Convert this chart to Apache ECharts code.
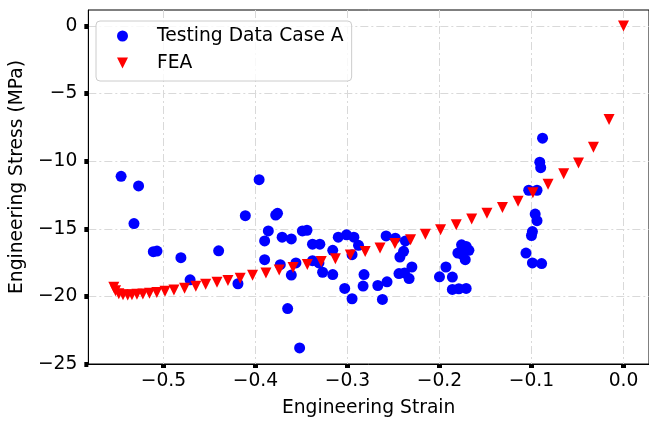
<!DOCTYPE html>
<html>
<head>
<meta charset="utf-8">
<script src="https://cdn.jsdelivr.net/npm/echarts@6/dist/echarts.min.js"></script>
<style>
html,body{margin:0;padding:0;background:#fff;}
#chart{width:649px;height:423px;}
</style>
</head>
<body>
<div id="chart"></div>
<script>
// Testing Data Case A
const testStrain = [-0.546,-0.527,-0.532,-0.511,-0.507,-0.481,-0.471,-0.440,-0.419,-0.411,
  -0.396,-0.378,-0.376,-0.386,-0.390,-0.390,-0.371,-0.361,-0.349,-0.344,
  -0.338,-0.330,-0.316,-0.310,-0.301,-0.293,-0.288,-0.295,-0.258,-0.248,
  -0.237,-0.239,-0.243,-0.230,-0.244,-0.238,-0.233,-0.257,-0.267,-0.262,
  -0.283,-0.282,-0.295,-0.303,-0.316,-0.327,-0.338,-0.331,-0.356,-0.373,
  -0.361,-0.365,-0.352,-0.176,-0.171,-0.168,-0.180,-0.175,-0.172,-0.193,
  -0.200,-0.186,-0.186,-0.179,-0.171,-0.088,-0.091,-0.090,-0.103,-0.094,
  -0.096,-0.094,-0.099,-0.100,-0.106,-0.099,-0.089];
const testStress = [-11.12,-11.83,-14.62,-16.70,-16.65,-17.14,-18.78,-16.63,-19.07,-14.03,
  -11.37,-13.99,-13.86,-15.16,-15.90,-17.29,-15.62,-15.75,-15.16,-15.11,
  -16.14,-16.14,-16.60,-15.62,-15.45,-15.62,-16.23,-16.92,-15.53,-15.70,
  -15.90,-16.67,-17.09,-17.83,-18.32,-18.27,-18.69,-18.93,-19.20,-20.23,
  -19.24,-18.39,-20.18,-19.42,-18.39,-18.22,-17.36,-17.53,-17.53,-17.66,
  -18.43,-20.91,-23.82,-16.19,-16.31,-16.60,-16.80,-16.92,-17.29,-17.83,
  -18.56,-18.58,-19.49,-19.44,-19.42,-8.30,-10.07,-10.48,-12.15,-12.15,
  -13.91,-14.40,-15.21,-15.50,-16.80,-17.53,-17.58];

// FEA
const feaStrain = [-0.5539,-0.5520,-0.5485,-0.5439,-0.5388,-0.5342,-0.5288,-0.5223,-0.5151,-0.5072,
  -0.4983,-0.4886,-0.4770,-0.4648,-0.4541,-0.4418,-0.4299,-0.4166,-0.4031,-0.3886,
  -0.3742,-0.3591,-0.3436,-0.3285,-0.3131,-0.2969,-0.2807,-0.2646,-0.2484,-0.2314,
  -0.2153,-0.1988,-0.1818,-0.1650,-0.1484,-0.1316,-0.1146,-0.0985,-0.0820,-0.0650,
  -0.0489,-0.0327,-0.0157,0.0];
const feaStress = [-19.33,-19.59,-19.81,-19.88,-19.90,-19.88,-19.85,-19.82,-19.77,-19.71,
  -19.63,-19.54,-19.41,-19.26,-19.11,-18.96,-18.83,-18.66,-18.45,-18.27,
  -18.06,-17.86,-17.65,-17.42,-17.22,-16.95,-16.69,-16.43,-16.10,-15.81,
  -15.40,-15.07,-14.71,-14.27,-13.86,-13.42,-12.96,-12.34,-11.71,-10.93,
  -10.14,-8.96,-6.92,0.0];

const xTicks = [-0.5,-0.4,-0.3,-0.2,-0.1,0.0];
const yTicks = [0,-5,-10,-15,-20,-25];
const seriesNames = ['Testing Data Case A','FEA'];
const axisNames = ['Engineering Strain','Engineering Stress (MPa)'];

const FONT = 'DejaVu Sans';
const FS = 18.7;
const TRI = 'path://M0,0L2,0L1,2Z';
const fmtX = v => Math.abs(v) < 1e-9 ? '0.0' : v.toFixed(1).replace('-', '\u2212');
const fmtY = v => String(Math.round(v)).replace('-', '\u2212');

const testData = testStrain.map((x, i) => [x, testStress[i]]);
const feaData = feaStrain.map((x, i) => [x, feaStress[i]]);

const gridLine = {show: true, lineStyle: {color: '#d9d9d9', width: 1, type: [8, 3, 2, 3]}};

const chart = echarts.init(document.getElementById('chart'), null, {renderer: 'canvas'});
chart.setOption({
  animation: false,
  backgroundColor: '#fff',
  grid: {left: 86, top: 10, width: 565, height: 356.8, show: true, borderColor: '#000', borderWidth: 1, backgroundColor: 'transparent'},
  legend: {
    orient: 'vertical', left: 96, top: 21,
    itemWidth: 11, itemHeight: 11, itemGap: 5,
    padding: [4, 8, 7, 21],
    backgroundColor: 'rgba(255,255,255,0.8)', borderColor: '#cccccc', borderWidth: 1, borderRadius: 4,
    textStyle: {fontSize: FS, fontFamily: FONT, color: '#000', padding: [0, 0, 0, 24], lineHeight: 22},
    data: [{name: seriesNames[0], icon: 'circle'}, {name: seriesNames[1], icon: TRI}]
  },
  xAxis: {
    type: 'value', min: -0.5816, max: 0.0277,
    name: axisNames[0], nameLocation: 'middle', nameGap: 35,
    nameTextStyle: {fontSize: FS, fontFamily: FONT, color: '#000'},
    axisLine: {show: true, onZero: false, lineStyle: {color: '#000', width: 1}},
    axisTick: {show: true, customValues: xTicks, length: 4, lineStyle: {color: '#000', width: 5}},
    axisLabel: {customValues: xTicks, formatter: fmtX, fontSize: FS, fontFamily: FONT, color: '#000', margin: 8},
    splitLine: gridLine
  },
  yAxis: {
    type: 'value', min: -25.01, max: 1.19,
    name: axisNames[1], nameLocation: 'middle', nameGap: 55, nameRotate: 90,
    nameTextStyle: {fontSize: FS, fontFamily: FONT, color: '#000', padding: [0, 0, 0, 20]},
    axisLine: {show: true, onZero: false, lineStyle: {color: '#000', width: 1}},
    axisTick: {show: true, customValues: yTicks, length: 4, lineStyle: {color: '#000', width: 5}},
    axisLabel: {customValues: yTicks, formatter: fmtY, fontSize: FS, fontFamily: FONT, color: '#000', margin: 11},
    splitLine: gridLine
  },
  series: [
    {name: seriesNames[0], type: 'scatter', data: testData, symbol: 'circle', symbolSize: 11,
     itemStyle: {color: '#0000ff', opacity: 1}, z: 2},
    {name: seriesNames[1], type: 'scatter', data: feaData, symbol: TRI, symbolSize: 11,
     itemStyle: {color: '#ff0000', opacity: 1}, z: 3}
  ]
});
</script>
</body>
</html>
